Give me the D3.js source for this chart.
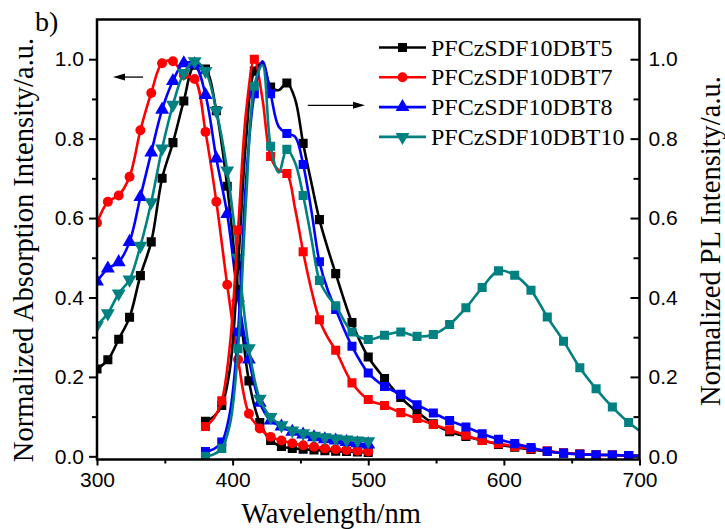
<!DOCTYPE html>
<html><head><meta charset="utf-8">
<script src="https://cdn.jsdelivr.net/npm/d3@7"></script>
<style>
body{margin:0;background:#fff;}
svg{display:block;}
</style></head>
<body>
<svg id="chart" width="725" height="529"></svg>
<script>
// ---------- DATA ----------
const seriesNames = ["PFCzSDF10DBT5","PFCzSDF10DBT7","PFCzSDF10DBT8","PFCzSDF10DBT10"];
const seriesColors = ["#000000","#ff0000","#0000ff","#008080"];
const absSymbols = ["square","circle","triangle","triangleDown"];

// absorption (left axis)
const absWl = [300,308,316,324,332,340,348,356,364,372,380,388,396,404,412,420,428,436,444,452,460,468,476,484,492,500];
const absT5  = [0.22,0.243,0.295,0.35,0.455,0.54,0.70,0.79,0.895,0.985,0.975,0.87,0.68,0.42,0.19,0.085,0.04,0.025,0.02,0.018,0.016,0.014,0.013,0.012,0.011,0.01];
const absT7  = [0.588,0.641,0.657,0.704,0.821,0.915,0.99,0.995,0.96,0.95,0.817,0.641,0.432,0.244,0.107,0.07,0.049,0.04,0.033,0.028,0.024,0.02,0.018,0.016,0.014,0.012];
const absT8  = [0.44,0.473,0.489,0.54,0.653,0.765,0.873,0.945,0.99,0.987,0.91,0.75,0.61,0.40,0.244,0.135,0.09,0.075,0.062,0.055,0.048,0.043,0.04,0.036,0.033,0.03];
const absT10 = [0.33,0.36,0.41,0.445,0.53,0.64,0.775,0.885,0.965,0.995,0.97,0.87,0.72,0.50,0.272,0.145,0.099,0.078,0.065,0.058,0.052,0.048,0.045,0.042,0.04,0.038];

// photoluminescence (right axis), points with markers
const plWl = [380,392,404,416,428,440,452,464,476,488,500,512,524,536,548,560,572,584,596,608,620,632,644,656,668,680,692,704];
const plT5  = [0.088,0.128,0.48,0.97,0.93,0.94,0.788,0.596,0.46,0.337,0.25,0.196,0.148,0.112,0.082,0.062,0.05,0.04,0.03,0.023,0.017,0.012,0.008,0.006,0.004,0.003,0.002,0.001];
const plT7  = [0.075,0.14,0.57,1.0,0.755,0.712,0.515,0.344,0.267,0.185,0.143,0.128,0.11,0.095,0.08,0.067,0.053,0.04,0.032,0.025,0.019,0.014,0.009,0.006,0.004,0.003,0.002,0.001];
const plT8  = [0.012,0.036,0.313,0.913,0.913,0.813,0.735,0.49,0.37,0.277,0.21,0.176,0.156,0.13,0.109,0.09,0.074,0.057,0.043,0.032,0.022,0.013,0.008,0.005,0.004,0.003,0.002,0.001];
const plT10 = [0.0,0.02,0.271,0.932,0.781,0.773,0.657,0.443,0.379,0.313,0.294,0.305,0.313,0.302,0.307,0.332,0.374,0.425,0.467,0.456,0.418,0.351,0.29,0.223,0.17,0.124,0.085,0.055];

// photoluminescence, intermediate points (no markers)
const plMidWl = [386,398,410,422,434,446,458,470];
const plMidT5  = [0.10,0.22,0.80,0.99,0.922,0.90,0.69,0.525];
const plMidT7  = [0.095,0.28,0.87,0.90,0.72,0.625,0.42,0.30];
const plMidT8  = [0.018,0.11,0.70,0.995,0.83,0.805,0.62,0.42];
const plMidT10 = [0.005,0.08,0.65,0.985,0.715,0.74,0.55,0.405];

const xTicks = [300,400,500,600,700];
const xMinor = [350,450,550,650];
const yTicks = [0.0,0.2,0.4,0.6,0.8,1.0];
const yMinor = [0.1,0.3,0.5,0.7,0.9];

const absSeries = [absT5,absT7,absT8,absT10];
const plSeries = [plT5,plT7,plT8,plT10];
const plMidSeries = [plMidT5,plMidT7,plMidT8,plMidT10];

// ---------- LAYOUT ----------
const L = 97, R = 639.5, T = 19.5, B = 459.5;
const svg = d3.select("#chart");
const x = d3.scaleLinear().domain([300,700]).range([L,R]);
const y = d3.scaleLinear().domain([-0.008,1.1]).range([B,T]);   // left axis
const y2 = d3.scaleLinear().domain([-0.008,1.1]).range([B,T]);  // right axis

svg.append("defs").append("clipPath").attr("id","clip")
  .append("rect").attr("x",L).attr("y",T).attr("width",R-L).attr("height",B-T);

const tickFont = "'Liberation Sans', Arial, sans-serif";
const serif = "'Liberation Serif', 'Times New Roman', serif";

function styleAxis(g){
  g.select(".domain").remove();
  g.selectAll(".tick line").attr("stroke","#000").attr("stroke-width",2);
  g.selectAll(".tick text").attr("font-family",tickFont).attr("font-size",21).attr("fill","#000");
}

// X axis
svg.append("g").attr("transform",`translate(0,${B})`)
  .call(d3.axisBottom(x).tickValues(xTicks).tickSize(6).tickPadding(7).tickFormat(d3.format("d")))
  .call(styleAxis);
svg.append("g").attr("transform",`translate(0,${B})`)
  .call(d3.axisBottom(x).tickValues(xMinor).tickSize(4).tickFormat(""))
  .call(styleAxis);

// Left axis
svg.append("g").attr("transform",`translate(${L},0)`)
  .call(d3.axisLeft(y).tickValues(yTicks).tickSize(8).tickPadding(5).tickFormat(d3.format(".1f")))
  .call(styleAxis);
svg.append("g").attr("transform",`translate(${L},0)`)
  .call(d3.axisLeft(y).tickValues(yMinor).tickSize(5).tickFormat(""))
  .call(styleAxis);

// Right axis (ticks inward)
svg.append("g").attr("transform",`translate(${R},0)`)
  .call(d3.axisRight(y2).tickValues(yTicks).tickSize(-9).tickPadding(9).tickFormat(d3.format(".1f")))
  .call(styleAxis);
svg.append("g").attr("transform",`translate(${R},0)`)
  .call(d3.axisRight(y2).tickValues(yMinor).tickSize(-6).tickFormat(""))
  .call(styleAxis);

// ---------- CURVES ----------
const plot = svg.append("g").attr("clip-path","url(#clip)");
const line = d3.line().x(d=>x(d[0])).y(d=>d[2](d[1])).curve(d3.curveCatmullRom.alpha(0.5));

const symType = {square:d3.symbolSquare, circle:d3.symbolCircle, triangle:d3.symbolTriangle, triangleDown:d3.symbolTriangle};
const symSize = {square:82, circle:78, triangle:84, triangleDown:84};

function drawSeries(wl, vals, scale, color, sym, midWl, midVals){
  let pts = wl.map((w,i)=>[w,vals[i],scale]);
  if(midWl){ pts = pts.concat(midWl.map((w,i)=>[w,midVals[i],scale])); pts.sort((a,b)=>a[0]-b[0]); }
  plot.append("path").datum(pts).attr("d",line)
    .attr("fill","none").attr("stroke",color).attr("stroke-width",2.6).attr("stroke-linejoin","round");
  plot.selectAll(null).data(wl.map((w,i)=>[w,vals[i]])).enter().append("path")
    .attr("d",d3.symbol().type(symType[sym]).size(symSize[sym]))
    .attr("transform",d=>`translate(${x(d[0])},${scale(d[1])})`+(sym==="triangleDown"?" rotate(180)":""))
    .attr("fill",color);
}

// absorption
absSeries.forEach((s,i)=>drawSeries(absWl, s, y, seriesColors[i], absSymbols[i]));
// PL
plSeries.forEach((s,i)=>drawSeries(plWl, s, y2, seriesColors[i], "square", plMidWl, plMidSeries[i]));

// frame
svg.append("rect").attr("x",L).attr("y",T).attr("width",R-L).attr("height",B-T)
  .attr("fill","none").attr("stroke","#000").attr("stroke-width",2.5);

// ---------- ARROWS ----------
function arrow(x1,x2,v,scale){
  const px1=x(x1), px2=x(x2), py=scale(v);
  const dir = Math.sign(px2-px1);
  svg.append("line").attr("x1",px1).attr("x2",px2-dir*8).attr("y1",py).attr("y2",py)
    .attr("stroke","#000").attr("stroke-width",1.3);
  svg.append("path").attr("d",`M${px2},${py} L${px2-dir*12},${py-3.5} L${px2-dir*12},${py+3.5} Z`).attr("fill","#000");
}
arrow(334,311.8,0.955,y);
arrow(455.4,497.6,0.884,y);

// ---------- LEGEND ----------
const lg = svg.append("g");
seriesNames.forEach((n,i)=>{
  const cy = 47.5 + i*29.8;
  lg.append("line").attr("x1",379).attr("x2",426).attr("y1",cy).attr("y2",cy)
    .attr("stroke",seriesColors[i]).attr("stroke-width",2.6);
  lg.append("path").attr("d",d3.symbol().type(symType[absSymbols[i]]).size(symSize[absSymbols[i]]))
    .attr("transform",`translate(402.5,${cy})`+(absSymbols[i]==="triangleDown"?" rotate(180)":""))
    .attr("fill",seriesColors[i]);
  lg.append("text").attr("x",431).attr("y",cy+8).text(n)
    .attr("font-family",serif).attr("font-size",24).attr("fill","#000");
});

// ---------- LABELS ----------
svg.append("text").attr("x",331).attr("y",523).attr("text-anchor","middle")
  .attr("font-family",serif).attr("font-size",28.5).text("Wavelength/nm");
svg.append("text").attr("transform","translate(33,250) rotate(-90)").attr("text-anchor","middle")
  .attr("font-family",serif).attr("font-size",28.5).text("Normalized Absorption Intensity/a.u.");
svg.append("text").attr("transform","translate(720,241) rotate(-90)").attr("text-anchor","middle")
  .attr("font-family",serif).attr("font-size",28.5).text("Normalized PL Intensity/a.u.");
svg.append("text").attr("x",35).attr("y",31)
  .attr("font-family",serif).attr("font-size",28).text("b)");
</script>
</body></html>
